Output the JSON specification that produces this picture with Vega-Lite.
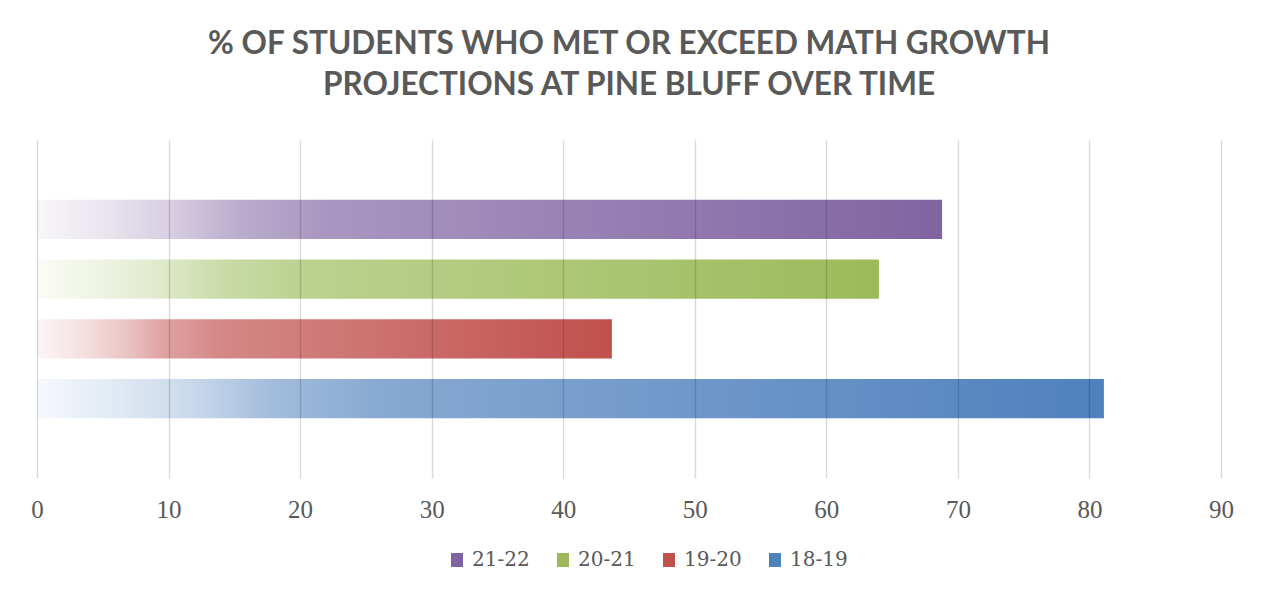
{
  "$schema": "https://vega.github.io/schema/vega-lite/v6.json",
  "width": 1184,
  "height": 338,
  "autosize": {"type": "none"},
  "padding": {"left": 37, "top": 140, "right": 42, "bottom": 120},
  "background": "#ffffff",
  "title": {
    "text": ["% OF STUDENTS WHO MET OR EXCEED MATH GROWTH", "PROJECTIONS AT PINE BLUFF OVER TIME"],
    "font": "Lato",
    "fontWeight": "bold",
    "fontSize": 31.5,
    "color": "#595959",
    "lineHeight": 41,
    "anchor": "middle",
    "baseline": "alphabetic",
    "offset": 14
  },
  "data": {
    "values": [
      {"year": "21-22", "pct": 68.8},
      {"year": "20-21", "pct": 64.0},
      {"year": "19-20", "pct": 43.7},
      {"year": "18-19", "pct": 81.1}
    ]
  },
  "encoding": {
    "x": {
      "field": "pct",
      "type": "quantitative",
      "scale": {"domain": [0, 90], "nice": false, "zero": true},
      "axis": {
        "values": [0, 10, 20, 30, 40, 50, 60, 70, 80, 90],
        "title": null,
        "grid": true,
        "gridColor": "#000000",
        "gridOpacity": 0.15,
        "gridWidth": 1.4,
        "domain": false,
        "ticks": false,
        "tickSize": 0,
        "labelFont": "Liberation Serif",
        "labelFontSize": 25,
        "labelColor": "#595959",
        "labelBaseline": "alphabetic",
        "labelPadding": 39.5,
        "labelFlush": false,
        "zindex": 1
      }
    },
    "y": {
      "field": "year",
      "type": "nominal",
      "scale": {"domain": ["21-22", "20-21", "19-20", "18-19"], "paddingInner": 0.346, "paddingOuter": 1.02},
      "axis": null
    }
  },
  "layer": [
    {
      "mark": {"type": "bar", "opacity": 0},
      "encoding": {
        "color": {
          "field": "year",
          "type": "nominal",
          "scale": {"domain": ["21-22", "20-21", "19-20", "18-19"], "range": ["#8064A2", "#9BBB59", "#C0504D", "#4F81BD"]},
          "legend": {
            "title": null,
            "orient": "none",
            "direction": "horizontal",
            "legendX": 410,
            "legendY": 410,
            "padding": 0,
            "symbolType": "M-0.86,-1H0.86V1H-0.86Z",
            "symbolSize": 196,
            "symbolOpacity": 1,
            "symbolStrokeWidth": 0,
            "labelFont": "DejaVu Serif",
            "labelFontSize": 20,
            "labelColor": "#595959",
            "labelOffset": 5,
            "columnPadding": 23
          }
        }
      }
    },
    {
      "transform": [{"filter": "datum.year == '21-22'"}],
      "mark": {"type": "bar", "color": {"gradient": "linear", "x1": 0, "y1": 0, "x2": 1, "y2": 0, "stops": [
        {"offset": 0, "color": "#F9F7FA"},
        {"offset": 0.08, "color": "#E8E3EE"},
        {"offset": 0.15, "color": "#D6CDE1"},
        {"offset": 0.22, "color": "#BCADCE"},
        {"offset": 0.32, "color": "#A996C0"},
        {"offset": 1, "color": "#8064A2"}
      ]}}
    },
    {
      "transform": [{"filter": "datum.year == '20-21'"}],
      "mark": {"type": "bar", "color": {"gradient": "linear", "x1": 0, "y1": 0, "x2": 1, "y2": 0, "stops": [
        {"offset": 0, "color": "#FAFCF7"},
        {"offset": 0.08, "color": "#EDF3E1"},
        {"offset": 0.15, "color": "#DFE9CA"},
        {"offset": 0.22, "color": "#CADBA7"},
        {"offset": 0.32, "color": "#BBD18E"},
        {"offset": 1, "color": "#9BBB59"}
      ]}}
    },
    {
      "transform": [{"filter": "datum.year == '19-20'"}],
      "mark": {"type": "bar", "color": {"gradient": "linear", "x1": 0, "y1": 0, "x2": 1, "y2": 0, "stops": [
        {"offset": 0, "color": "#FCF6F6"},
        {"offset": 0.08, "color": "#F4E0DF"},
        {"offset": 0.15, "color": "#EBC7C6"},
        {"offset": 0.22, "color": "#DEA2A1"},
        {"offset": 0.32, "color": "#D48886"},
        {"offset": 1, "color": "#C0504D"}
      ]}}
    },
    {
      "transform": [{"filter": "datum.year == '18-19'"}],
      "mark": {"type": "bar", "color": {"gradient": "linear", "x1": 0, "y1": 0, "x2": 1, "y2": 0, "stops": [
        {"offset": 0, "color": "#F6F9FC"},
        {"offset": 0.08, "color": "#DFE8F3"},
        {"offset": 0.15, "color": "#C7D7EA"},
        {"offset": 0.22, "color": "#A2BCDC"},
        {"offset": 0.32, "color": "#87A9D2"},
        {"offset": 1, "color": "#4F81BD"}
      ]}}
    }
  ],
  "config": {
    "view": {"stroke": null}
  }
}
